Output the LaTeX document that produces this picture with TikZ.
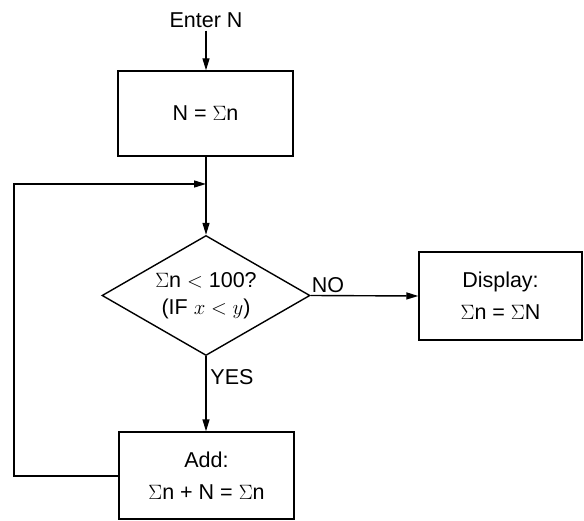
\documentclass[tikz,border=0pt]{standalone}
\usepackage{fontspec}
\setmainfont{Liberation Sans}
\usetikzlibrary{shapes.geometric,arrows.meta}
\newcommand{\Sg}{$\Sigma$}
\tikzset{
  box/.style={draw, line width=1.4pt, rectangle, inner sep=0pt, align=center, font=\fontsize{21.5}{32}\selectfont},
  dec/.style={draw, line width=1.4pt, diamond, inner sep=0pt, shape aspect=1.733, minimum width=208pt, minimum height=120pt, align=center, font=\fontsize{21.5}{27}\selectfont},
  lbl/.style={inner sep=0pt, font=\fontsize{21.5}{24}\selectfont},
  conn/.style={line width=1.4pt},
  arr/.style={conn, -{Triangle[length=12pt,width=7pt]}}
}
\begin{document}
\begin{tikzpicture}[x=1pt,y=-1pt]
\useasboundingbox (0,0) rectangle (584,521);
\node[lbl] (enter) at (206,20) {Enter N};
\node[box, minimum width=175pt, minimum height=85pt] (init) at (205.5,113.5) {N = \Sg n};
\node[dec] (test) at (206,295.5) {\Sg n $<$ 100?\\(IF $x<y$)};
\node[box, minimum width=163pt, minimum height=88pt] (disp) at (500.5,296) {Display:\\\Sg n = \Sg N};
\node[box, minimum width=175pt, minimum height=87pt] (add) at (206.5,475.5) {Add:\\\Sg n + N = \Sg n};
\coordinate (j) at (206,184);
\coordinate (lb) at (14,476);
\coordinate (lt) at (14,184);
\node[lbl] (no) at (328,285) {NO};
\node[lbl] (yes) at (232,377) {YES};
\draw[arr] (enter.south) ++(0,3) -- (init.north -| enter.south);
\draw[conn] (init.south -| j) -- (j);
\draw[arr] (j) -- (test.north);
\draw[arr] (test.east) -- (disp.west);
\draw[arr] (test.south) -- (add.north -| test.south);
\draw[arr] (add.west |- lb) -- (lb) -- (lt) -- (j);
\end{tikzpicture}
\end{document}
